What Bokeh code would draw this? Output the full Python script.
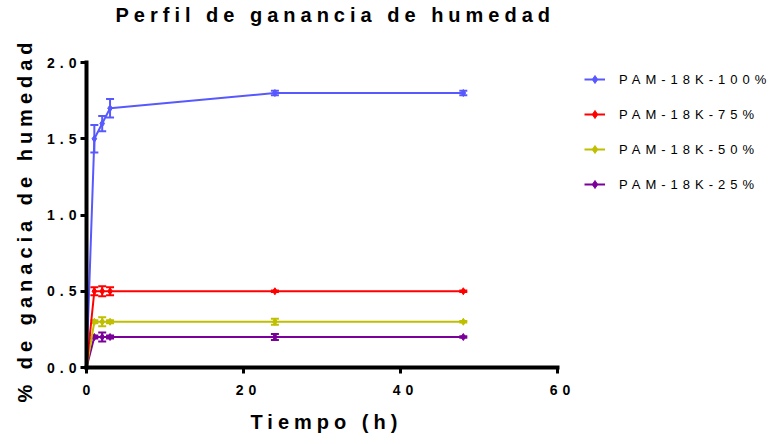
from bokeh.plotting import figure
from bokeh.models import (ColumnDataSource, Whisker, TeeHead, FixedTicker,
                          PrintfTickFormatter, Legend, LegendItem, Range1d, Title)
from bokeh.embed import file_html
from bokeh.resources import INLINE

# Sampling times (h)
tiempo = [0, 1, 2, 3, 24, 48]

# Moisture gain per formulation and its error
series_names = ["PAM-18K-100%", "PAM-18K-75%", "PAM-18K-50%", "PAM-18K-25%"]
pam_100 = [0.0, 1.50, 1.60, 1.70, 1.80, 1.80]
pam_100_err = [0.0, 0.09, 0.05, 0.06, 0.015, 0.015]
pam_75 = [0.0, 0.50, 0.50, 0.50, 0.50, 0.50]
pam_75_err = [0.0, 0.026, 0.033, 0.026, 0.005, 0.005]
pam_50 = [0.0, 0.30, 0.30, 0.30, 0.30, 0.30]
pam_50_err = [0.0, 0.01, 0.03, 0.01, 0.02, 0.005]
pam_25 = [0.0, 0.20, 0.20, 0.20, 0.20, 0.20]
pam_25_err = [0.0, 0.01, 0.03, 0.01, 0.02, 0.005]

x_ticks = [0, 20, 40, 60]
y_ticks = [0.0, 0.5, 1.0, 1.5, 2.0]

colors = ["#5858ff", "#ff0000", "#bfbf00", "#7a0099"]
values = [pam_100, pam_75, pam_50, pam_25]
errors = [pam_100_err, pam_75_err, pam_50_err, pam_25_err]

FONT = "Liberation Sans"

# The data frame reaches the right edge so the legend can sit beside the axes;
# the axes themselves are limited to 0-60 h and 0-2 with `bounds`.
W, H = 772, 444
LEFT, TOP, BOTTOM = 86, 27, 77
AXIS_LEN_X, AXIS_LEN_Y = 471, 305
x_end = x_ticks[-1] * (W - LEFT) / AXIS_LEN_X
y_end = y_ticks[-1] * (H - BOTTOM - TOP) / AXIS_LEN_Y

p = figure(width=W, height=H, output_backend="svg", toolbar_location=None,
           x_range=Range1d(0, x_end), y_range=Range1d(0, y_end),
           min_border_left=LEFT, min_border_right=0,
           min_border_top=TOP, min_border_bottom=BOTTOM)
# wide tracking on every text of the chart
p.stylesheets = [":host { letter-spacing: 5px; }"]

p.title.text = "Perfil de ganancia de humedad"
p.title.text_font = FONT
p.title.text_font_size = "20px"
p.title.text_font_style = "bold"
p.title.text_color = "black"
p.title.align = "left"
p.title.offset = 29
p.title.vertical_align = "top"
p.title.standoff = 0

p.xgrid.visible = False
p.ygrid.visible = False
p.outline_line_color = None

p.xaxis.ticker = FixedTicker(ticks=x_ticks)
p.yaxis.ticker = FixedTicker(ticks=y_ticks)
p.yaxis.formatter = PrintfTickFormatter(format="%.1f")
p.xaxis.bounds = (x_ticks[0], x_ticks[-1])
p.yaxis.bounds = (y_ticks[0], y_ticks[-1])
for ax in (p.xaxis, p.yaxis):
    ax.axis_line_width = 4
    ax.axis_line_color = "black"
    ax.axis_line_cap = "square"
    ax.major_tick_line_width = 3
    ax.major_tick_out = 6
    ax.major_tick_in = 0
    ax.minor_tick_out = 0
    ax.minor_tick_in = 0
    ax.major_label_text_font = FONT
    ax.major_label_text_font_size = "14px"
    ax.major_label_text_font_style = "bold"
    ax.major_label_text_color = "black"
p.xaxis.major_label_standoff = 11
p.yaxis.major_label_standoff = 14

# axis titles, anchored at their start so the tracked text lands in place
label_style = dict(text_font=FONT, text_font_size="20px", text_font_style="bold",
                   text_color="black", align="left")
p.add_layout(Title(text="Tiempo (h)", offset=164, vertical_align="bottom",
                   standoff=22, **label_style), "below")
p.add_layout(Title(text="% de ganacia de humedad", offset=-35, vertical_align="top",
                   standoff=13, **label_style), "left")

items = {}
# draw the lowest series first so the top curve sits above the others
for name, vals, errs, c in reversed(list(zip(series_names, values, errors, colors))):
    lr = p.line(tiempo, vals, line_color=c, line_width=2)
    sr = p.scatter(tiempo, vals, marker="diamond", size=7, color=c)
    keep = [i for i, e in enumerate(errs) if e > 0]
    src = ColumnDataSource(data=dict(
        t=[tiempo[i] for i in keep],
        lo=[vals[i] - errs[i] for i in keep],
        up=[vals[i] + errs[i] for i in keep]))
    w = Whisker(base="t", lower="lo", upper="up", source=src,
                line_color=c, line_width=2,
                upper_head=TeeHead(size=8, line_color=c, line_width=2),
                lower_head=TeeHead(size=8, line_color=c, line_width=2))
    p.add_layout(w)
    items[name] = LegendItem(label=name, renderers=[lr, sr])

legend = Legend(items=[items[n] for n in series_names], location=(498, 173),
                border_line_color=None, background_fill_alpha=0,
                label_text_font=FONT, label_text_font_size="13px",
                label_text_color="black",
                glyph_width=21, glyph_height=20, spacing=15,
                label_standoff=14, padding=0, margin=0)
p.add_layout(legend)

open("out.html", "w").write(file_html(p, INLINE))
